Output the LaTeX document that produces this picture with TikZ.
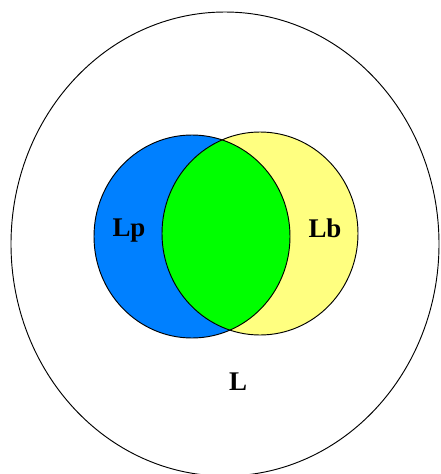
\documentclass[tikz,border=0pt]{standalone}
\usepackage{fontspec}
\setmainfont{Liberation Serif}
\definecolor{bluL}{RGB}{0,128,255}
\definecolor{gialloL}{RGB}{255,255,128}
\definecolor{verdeL}{RGB}{0,255,0}
\begin{document}
\begin{tikzpicture}[
			x=0.03cm, y=-0.03cm,
			bordo/.style={line width=0.8pt, black},
			insieme/.style={line width=0.8pt, black},
			lab/.style={font=\fontsize{23}{23}\selectfont\bfseries, inner sep=0pt},
			]
			
			\def\Xp{192}\def\Yp{236.5}   % centro di Lp
			\def\Xb{260}\def\Yb{233.5}   % centro di Lb
			\def\Rx{98}\def\Ry{101.5}    % semiassi dei due insiemi
			
			\useasboundingbox (0,0) rectangle (440,474);
			
			%%═══ universo L ══════════════════════════
			\draw[bordo] (225,244) ellipse [x radius=214, y radius=232];
			
			%%═══ insiemi Lp e Lb ══════════════════════
			\fill[bluL] (\Xp,\Yp) ellipse [x radius=\Rx, y radius=\Ry];
			\fill[gialloL] (\Xb,\Yb) ellipse [x radius=\Rx, y radius=\Ry];
			% intersezione
			\begin{scope}
				\clip (\Xp,\Yp) ellipse [x radius=\Rx, y radius=\Ry];
				\fill[verdeL] (\Xb,\Yb) ellipse [x radius=\Rx, y radius=\Ry];
			\end{scope}
			\draw[insieme] (\Xp,\Yp) ellipse [x radius=\Rx, y radius=\Ry];
			\draw[insieme] (\Xb,\Yb) ellipse [x radius=\Rx, y radius=\Ry];
			
			%%═══ etichette ════════════════════════════
			\node[lab] (Lp) at (129,231) {Lp};
			\node[lab] (Lb) at (325,228) {Lb};
			\node[lab] (L) at (238,382) {L};
			
		\end{tikzpicture}
\end{document}
